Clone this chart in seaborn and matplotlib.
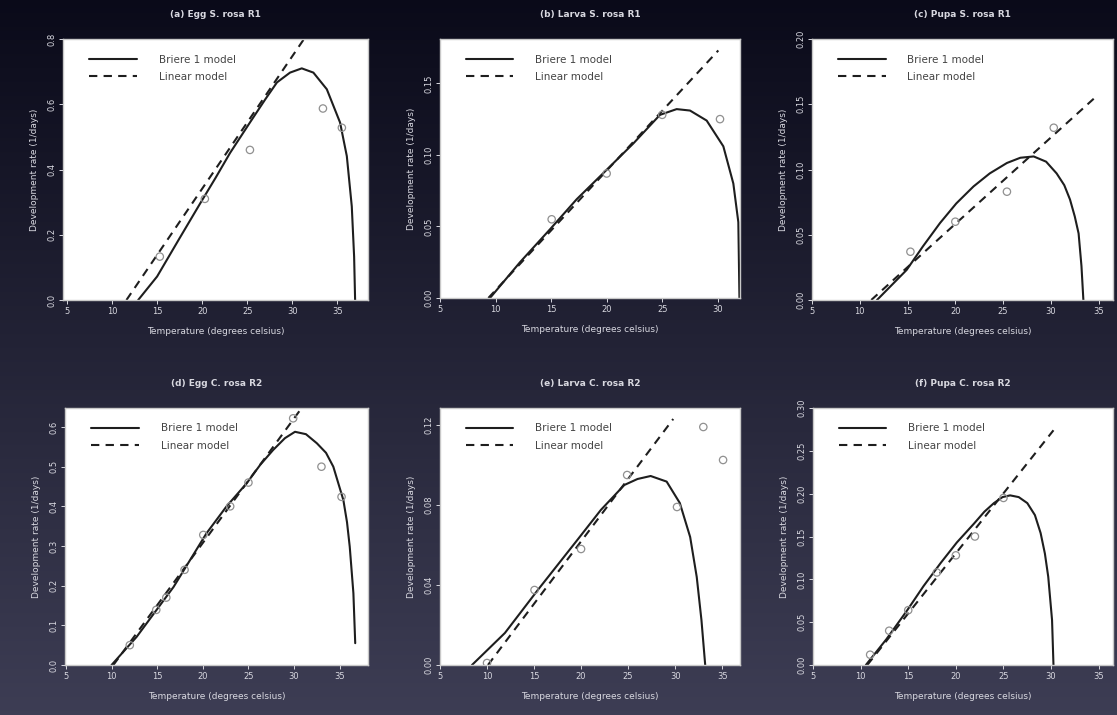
import numpy as np
import matplotlib
matplotlib.use("Agg")
import matplotlib.pyplot as plt
import seaborn as sns

# --- values (temperature in deg C, rate in 1/days) ---

# (a) egg, R1
egg_r1_curve_t = [12.9, 15.0, 17.4, 19.8, 21.5, 23.1, 25.3, 27.0, 28.3, 29.75, 31.05, 32.34, 33.83, 35.3, 36.05, 36.6, 36.86, 36.97]
egg_r1_curve_rate = [0.0, 0.072, 0.185, 0.297, 0.375, 0.451, 0.544, 0.615, 0.667, 0.697, 0.710, 0.697, 0.646, 0.544, 0.441, 0.287, 0.133, 0.0]
egg_r1_line_t = [11.6, 31.3]
egg_r1_line_rate = [0.0, 0.80]
egg_r1_obs_t = [15.3, 20.3, 25.3, 33.4, 35.5]
egg_r1_obs_rate = [0.133, 0.31, 0.46, 0.587, 0.528]

# (b) larva, R1
larva_r1_curve_t = [9.5, 12.2, 14.9, 17.3, 19.4, 22.4, 24.8, 26.3, 27.5, 29.0, 30.5, 31.4, 31.85, 31.95]
larva_r1_curve_rate = [0.0, 0.025, 0.048, 0.069, 0.085, 0.108, 0.128, 0.132, 0.131, 0.124, 0.106, 0.080, 0.053, 0.0]
larva_r1_line_t = [9.35, 30.05]
larva_r1_line_rate = [0.0, 0.173]
larva_r1_obs_t = [15.05, 20.0, 25.0, 30.2]
larva_r1_obs_rate = [0.055, 0.087, 0.128, 0.125]

# (c) pupa, R1
pupa_r1_curve_t = [11.8, 14.9, 16.6, 18.4, 20.1, 21.9, 23.6, 25.4, 26.8, 28.2, 29.5, 30.6, 31.4, 32.0, 32.5, 32.9, 33.2, 33.4]
pupa_r1_curve_rate = [0.0, 0.023, 0.041, 0.059, 0.074, 0.087, 0.097, 0.105, 0.109, 0.110, 0.106, 0.097, 0.088, 0.077, 0.064, 0.051, 0.026, 0.0]
pupa_r1_line_t = [11.2, 34.6]
pupa_r1_line_rate = [0.0, 0.155]
pupa_r1_obs_t = [15.3, 20.0, 25.4, 30.3]
pupa_r1_obs_rate = [0.037, 0.060, 0.083, 0.132]

# (d) egg, R2
egg_r2_curve_t = [10.0, 12.75, 16.8, 20.4, 22.6, 24.8, 26.3, 27.7, 29.0, 30.1, 31.3, 32.5, 33.5, 34.3, 35.4, 35.8, 36.1, 36.5, 36.7]
egg_r2_curve_rate = [0.0, 0.071, 0.197, 0.332, 0.40, 0.458, 0.505, 0.542, 0.572, 0.588, 0.582, 0.559, 0.535, 0.50, 0.416, 0.36, 0.298, 0.181, 0.055]
egg_r2_line_t = [10.2, 30.8]
egg_r2_line_rate = [0.0, 0.647]
egg_r2_obs_t = [12.0, 14.9, 16.0, 18.0, 20.05, 23.0, 25.0, 29.9, 33.0, 35.2]
egg_r2_obs_rate = [0.05, 0.139, 0.17, 0.24, 0.328, 0.40, 0.46, 0.622, 0.50, 0.424]

# (e) larva, R2
larva_r2_curve_t = [8.4, 11.9, 15.4, 19.6, 22.1, 24.6, 26.0, 27.4, 29.1, 30.5, 31.6, 32.3, 32.8, 33.2]
larva_r2_curve_rate = [0.0, 0.016, 0.0375, 0.0625, 0.0775, 0.090, 0.093, 0.0945, 0.0917, 0.081, 0.064, 0.044, 0.0225, 0.0]
larva_r2_line_t = [10.1, 29.8]
larva_r2_line_rate = [0.0, 0.123]
larva_r2_obs_t = [10.0, 15.05, 20.0, 24.9, 30.2, 33.0, 35.1]
larva_r2_obs_rate = [0.001, 0.0375, 0.058, 0.095, 0.079, 0.119, 0.1025]

# (f) pupa, R2
pupa_r2_curve_t = [10.55, 12.7, 14.9, 16.6, 18.4, 20.1, 21.9, 23.0, 24.0, 24.9, 25.7, 26.6, 27.5, 28.3, 28.9, 29.35, 29.7, 30.1, 30.25]
pupa_r2_curve_rate = [0.0, 0.03, 0.064, 0.092, 0.119, 0.143, 0.165, 0.179, 0.189, 0.196, 0.198, 0.196, 0.189, 0.175, 0.154, 0.13, 0.103, 0.0525, 0.0]
pupa_r2_line_t = [10.7, 30.25]
pupa_r2_line_rate = [0.0, 0.274]
pupa_r2_obs_t = [11.0, 13.0, 15.0, 18.0, 20.0, 22.0, 25.0]
pupa_r2_obs_rate = [0.012, 0.040, 0.064, 0.108, 0.128, 0.150, 0.195]

titles = ["(a) Egg S. rosa R1", "(b) Larva S. rosa R1", "(c) Pupa S. rosa R1",
          "(d) Egg C. rosa R2", "(e) Larva C. rosa R2", "(f) Pupa C. rosa R2"]

y_ticks = [
    [0.0, 0.2, 0.4, 0.6, 0.8],
    [0.00, 0.05, 0.10, 0.15],
    [0.00, 0.05, 0.10, 0.15, 0.20],
    [0.0, 0.1, 0.2, 0.3, 0.4, 0.5, 0.6],
    [0.00, 0.04, 0.08, 0.12],
    [0.00, 0.05, 0.10, 0.15, 0.20, 0.25, 0.30],
]
y_fmt = ["%.1f", "%.2f", "%.2f", "%.1f", "%.2f", "%.2f"]
y_lims = [(0, 0.80), (0, 0.181), (0, 0.20), (0, 0.648), (0, 0.1285), (0, 0.30)]
x_ticks = [[5, 10, 15, 20, 25, 30, 35], [5, 10, 15, 20, 25, 30], [5, 10, 15, 20, 25, 30, 35],
           [5, 10, 15, 20, 25, 30, 35], [5, 10, 15, 20, 25, 30, 35], [5, 10, 15, 20, 25, 30, 35]]
x_lims = [(4.56, 38.4), (5, 32), (5, 36.5), (4.9, 38.1), (5.2, 36.9), (5, 36.5)]

panels = [
    (egg_r1_curve_t, egg_r1_curve_rate, egg_r1_line_t, egg_r1_line_rate, egg_r1_obs_t, egg_r1_obs_rate),
    (larva_r1_curve_t, larva_r1_curve_rate, larva_r1_line_t, larva_r1_line_rate, larva_r1_obs_t, larva_r1_obs_rate),
    (pupa_r1_curve_t, pupa_r1_curve_rate, pupa_r1_line_t, pupa_r1_line_rate, pupa_r1_obs_t, pupa_r1_obs_rate),
    (egg_r2_curve_t, egg_r2_curve_rate, egg_r2_line_t, egg_r2_line_rate, egg_r2_obs_t, egg_r2_obs_rate),
    (larva_r2_curve_t, larva_r2_curve_rate, larva_r2_line_t, larva_r2_line_rate, larva_r2_obs_t, larva_r2_obs_rate),
    (pupa_r2_curve_t, pupa_r2_curve_rate, pupa_r2_line_t, pupa_r2_line_rate, pupa_r2_obs_t, pupa_r2_obs_rate),
]

# axes boxes in pixels: left, top, right, bottom
W, H = 1117, 715
boxes = [(63, 39, 368, 300), (440, 39, 740, 298), (812, 39, 1113, 300),
         (65, 408, 368, 665), (440, 408, 740, 665), (813, 408, 1113, 665)]

sns.set_theme(style="white")
plt.rcParams["font.family"] = ["DejaVu Sans"]
txt = "#d8d8e0"

fig = plt.figure(figsize=(W / 100, H / 100), dpi=100)

# slide-like dark gradient background
bg = fig.add_axes([0, 0, 1, 1], zorder=-10)
grad = np.linspace(0, 1, 256)[:, None]
top = np.array([0.04, 0.04, 0.10])
bot = np.array([0.24, 0.24, 0.33])
img = top + (bot - top) * grad[..., None]
bg.imshow(img, aspect="auto", extent=[0, 1, 0, 1], origin="upper")
bg.axis("off")

for i, (ct, cr, lt, lr, ot, orate) in enumerate(panels):
    l, t, r, b = boxes[i]
    ax = fig.add_axes([l / W, 1 - b / H, (r - l) / W, (b - t) / H])
    ax.set_facecolor("white")

    sns.lineplot(x=ct, y=cr, ax=ax, color="#1e1e1e", lw=1.5, label="Briere 1 model")
    sns.lineplot(x=lt, y=lr, ax=ax, color="#1e1e1e", lw=1.5, label="Linear model")
    ax.lines[-1].set_dashes([4, 3])
    sns.scatterplot(x=ot, y=orate, ax=ax, marker="o", s=28, facecolor="none",
                    edgecolor="#909090", linewidth=0.9, zorder=3)

    ax.set_xlim(*x_lims[i])
    ax.set_ylim(*y_lims[i])
    ax.set_xticks(x_ticks[i])
    ax.set_xticklabels([str(v) for v in x_ticks[i]])
    ax.set_yticks(y_ticks[i])
    ax.set_yticklabels([y_fmt[i] % v for v in y_ticks[i]], rotation=90, va="center")
    ax.tick_params(axis="both", colors=txt, labelsize=6, length=3, width=0.7,
                   direction="out", bottom=True, left=True, pad=2)

    for sp in ax.spines.values():
        sp.set_color("#c8c8c8")
        sp.set_linewidth(1.0)

    ax.set_title(titles[i], color=txt, fontsize=6.5, fontweight="bold", pad=16)
    ax.set_xlabel("Temperature (degrees celsius)", color=txt, fontsize=6.5, labelpad=8)
    ax.set_ylabel("Development rate (1/days)", color=txt, fontsize=6.5, labelpad=6)

    leg = ax.legend(loc="upper left", bbox_to_anchor=(0.085, 0.94), frameon=False,
                    fontsize=7.5, handlelength=4.6, handletextpad=2.1,
                    borderaxespad=0, borderpad=0, labelspacing=0.7)
    for h in leg.get_lines():
        h.set_linewidth(1.5)
    for tx in leg.get_texts():
        tx.set_color("#444444")

fig.savefig("out.png", dpi=100)
